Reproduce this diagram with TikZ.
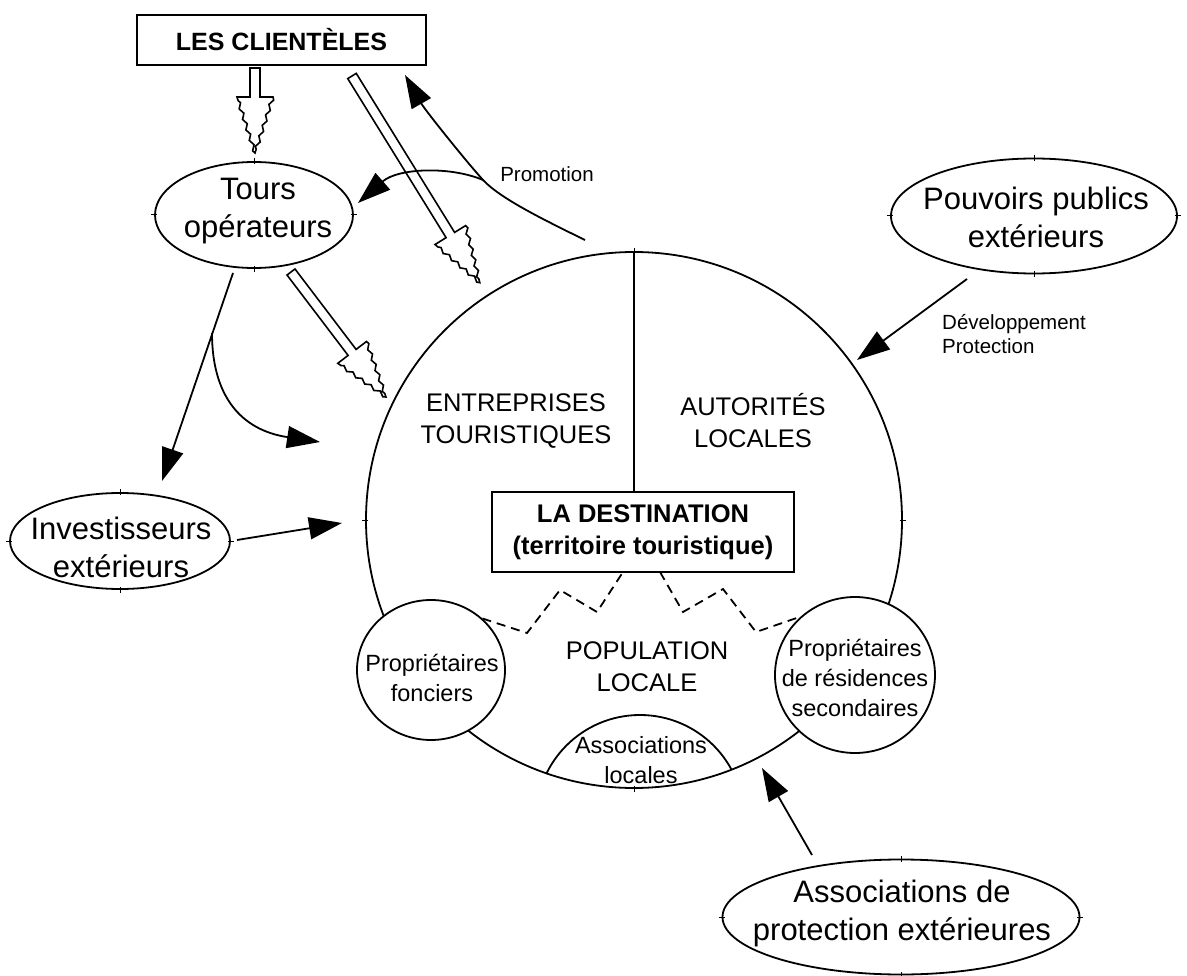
\documentclass[tikz,border=0pt]{standalone}
\usepackage{fontspec}
\setmainfont{Liberation Sans}
\usetikzlibrary{arrows.meta,shapes.geometric,decorations.pathmorphing}
\tikzset{
  ln/.style={line width=1.8pt},
  shapeline/.style={draw, line width=1.8pt, fill=white, inner sep=0pt},
  oval/.style={shapeline, ellipse},
  boxnode/.style={draw, line width=1.8pt, fill=white, inner sep=0pt, align=center},
  bigtxt/.style={font=\fontsize{31}{38}\selectfont, align=center, inner sep=0pt},
  midtxt/.style={font=\fontsize{25.5}{32}\selectfont, align=center, inner sep=0pt},
  smtxt/.style={font=\fontsize{23.5}{30}\selectfont, align=center, inner sep=0pt},
  lbltxt/.style={font=\fontsize{20.5}{24}\selectfont, align=left, inner sep=0pt},
  arr/.style={line width=1.8pt, -{Triangle[length=33pt,width=22pt]}},
  dsh/.style={line width=1.8pt, dash pattern=on 9pt off 6pt},
  tick/.style={line width=1pt},
  jag/.style={decoration={zigzag, segment length=11pt, amplitude=1.6pt}},
  pics/hollow/.style={code={
    \draw[line width=1.6pt, fill=white, line join=miter]
      (0,-5) -- (#1-56,-5) -- (#1-56,-18)
      decorate[jag]{-- (#1,0)}
      decorate[jag]{-- (#1-56,18)}
      -- (#1-56,5) -- (0,5) -- cycle;
  }},
}
\begin{document}
\begin{tikzpicture}[x=1pt,y=-1pt]
\useasboundingbox (0,0) rectangle (1187,976);

% main territory
\node[shapeline, circle, minimum size=536pt] (main) at (634,520) {};
\node[boxnode, minimum width=302pt, minimum height=80pt,
      font=\fontsize{25.5}{32}\selectfont\bfseries] (dest) at (643,532)
      {LA DESTINATION\\(territoire touristique)};
\draw[ln] (main.north) -- (main.north |- dest.north);
\node[midtxt] (ent) at (516,421) {ENTREPRISES\\TOURISTIQUES};
\node[midtxt] (aut) at (753,421) {AUTORITÉS\\LOCALES};
\node[midtxt] (pop) at (647,667) {POPULATION\\LOCALE};

% local associations cap
\begin{scope}
  \clip (main.center) circle (268);
  \draw[ln] (640,819) circle (104);
\end{scope}
\node[smtxt] (asl) at (641,760) {Associations\\locales};

% owners
\node[oval, minimum width=148pt, minimum height=140pt] (pf) at (431,670) {};
\node[smtxt] (pft) at (432,678) {Propriétaires\\fonciers};
\node[oval, minimum width=160pt, minimum height=156pt] (prs) at (855,675) {};
\node[smtxt] (prst) at (855,678) {Propriétaires\\de résidences\\secondaires};

% dashed links
\draw[dsh] (pf.45) -- (527,633) -- (560,590) -- (597,612) -- (623,572);
\draw[dsh] (660,572) -- (683,612) -- (723,589) -- (756,632) -- (prs.133);

% clients
\node[boxnode, minimum width=289pt, minimum height=50pt,
      font=\fontsize{25}{30}\selectfont\bfseries] (cli) at (281.5,40) {LES CLIENTÈLES};

% outer actors
\node[oval, minimum width=198pt, minimum height=106pt] (tours) at (254,215) {};
\node[bigtxt] (tourst) at (258,211) {Tours\\opérateurs};
\node[oval, minimum width=286pt, minimum height=115pt] (pouv) at (1034,216) {};
\node[bigtxt] (pouvt) at (1036,217) {Pouvoirs publics\\extérieurs};
\node[oval, minimum width=220pt, minimum height=96pt] (inv) at (120,541) {};
\node[bigtxt] (invt) at (121,547) {Investisseurs\\extérieurs};
\node[oval, minimum width=357pt, minimum height=115pt] (prot) at (901,917) {};
\node[bigtxt] (prott) at (902,913) {Associations de\\protection extérieures};

% small handle ticks
\foreach \n in {tours,pouv,inv,prot,main}{
  \draw[tick] (\n.north) ++(0,-3) -- ++(0,6);
  \draw[tick] (\n.south) ++(0,-3) -- ++(0,6);
  \draw[tick] (\n.west) ++(-3,0) -- ++(6,0);
  \draw[tick] (\n.east) ++(-3,0) -- ++(6,0);
}

% hollow (flow) arrows
\pic[rotate=-90] at (255,68) {hollow=85};
\pic[rotate=-58.27] at (352,76) {hollow=243};
\pic[rotate=-52.77] at (291,272) {hollow=157};

% coordinates for connector ends
\coordinate (promS) at (585,240);
\coordinate (promB) at (483,180);
\coordinate (promE) at (405,75);
\coordinate (tourTip) at (358,203);
\coordinate (tourS) at (233,273);
\coordinate (invTip) at (162,481);
\coordinate (brS) at (212,333);
\coordinate (brTip) at (320,442);
\coordinate (invS) at (237,540);
\coordinate (invE) at (342,523);
\coordinate (pouvS) at (967,279);
\coordinate (pouvE) at (857,360);
\coordinate (protS) at (812,855);
\coordinate (protE) at (762,768);

% connectors
\draw[arr] (promS) .. controls (540,218) and (500,198) .. (promB)
           .. controls (465,160) and (425,110) .. (promE);
\draw[arr] (promB) .. controls (450,166) and (398,168) .. (tourTip);
\node[lbltxt] (promo) at (547,174) {Promotion};
\draw[arr] (tourS) -- (invTip);
\draw[arr] (brS) .. controls (212,395) and (240,430) .. (brTip);
\draw[arr] (invS) -- (invE);
\draw[arr] (pouvS) -- (pouvE);
\node[lbltxt, anchor=west] (dev) at (942,334) {Développement\\Protection};
\draw[arr] (protS) -- (protE);
\end{tikzpicture}
\end{document}
